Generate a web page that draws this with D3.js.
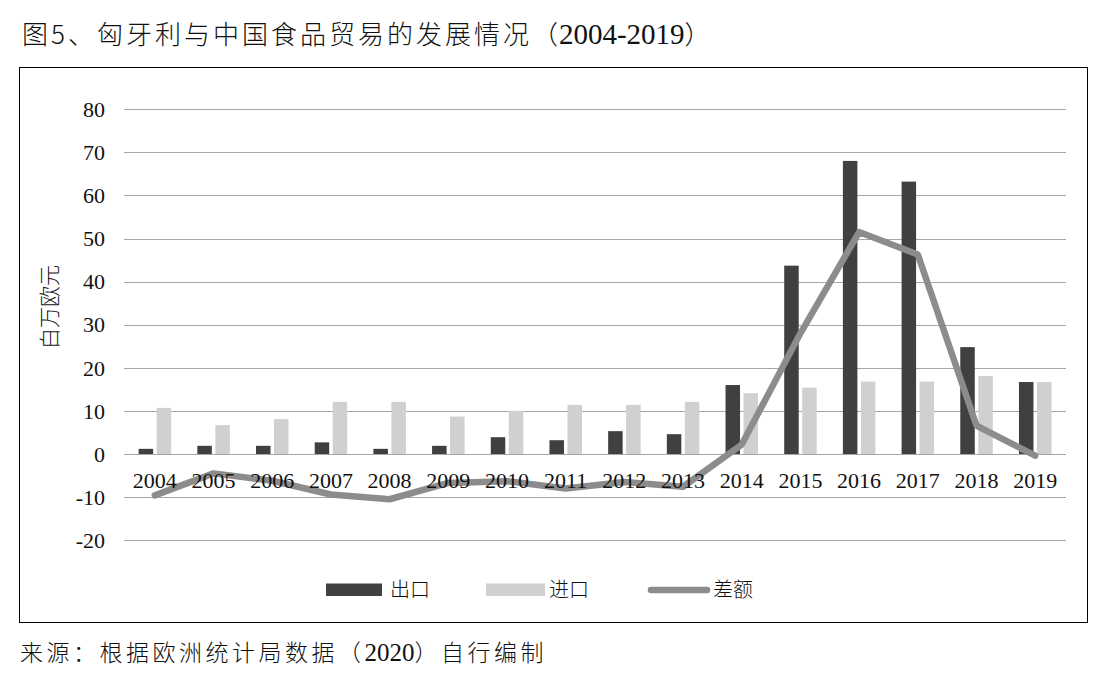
<!DOCTYPE html>
<html><head><meta charset="utf-8">
<script src="https://cdn.jsdelivr.net/npm/d3@7"></script>
<style>
html,body{margin:0;padding:0;background:#fff;}
svg{display:block;}
</style>
</head><body>
<svg id="c" width="1102" height="688"></svg>
<script>
const years = ["2004","2005","2006","2007","2008","2009","2010","2011","2012","2013","2014","2015","2016","2017","2018","2019"];
const exportVals = [1.2, 1.9, 1.9, 2.7, 1.2, 1.9, 3.9, 3.2, 5.3, 4.6, 16.0, 43.7, 68.0, 63.2, 24.8, 16.7];
const importVals = [10.7, 6.7, 8.1, 12.1, 12.1, 8.7, 10.0, 11.4, 11.4, 12.1, 14.1, 15.4, 16.8, 16.8, 18.1, 16.7];
const diffVals = [-9.6, -4.5, -6.2, -9.4, -10.5, -6.7, -6.3, -8.0, -6.5, -7.6, 2.2, 28.0, 51.5, 46.3, 6.6, -0.4];
const yTicks = [-20, -10, 0, 10, 20, 30, 40, 50, 60, 70, 80];
const seriesNames = ["出口", "进口", "差额"];
const titleText = ["图5、匈牙利与中国食品贸易的发展情况（", "2004-2019", "）"];
const sourceText = ["来源：根据欧洲统计局数据（", "2020", "）自行编制"];
const yTitle = "白万欧元";

const svg = d3.select("#c");
const cjk = "'Noto Sans CJK SC', sans-serif";
const serif = "'Liberation Serif', 'Times New Roman', serif";
const cDark = "#404040", cLight = "#d0d0d0", cLine = "#8c8c8c", cGrid = "#a6a6a6";

// frame
svg.append("rect").attr("x",19.5).attr("y",67.5).attr("width",1068).attr("height",555)
  .attr("fill","none").attr("stroke","#000").attr("stroke-width",1);

// title
const t = svg.append("text").attr("x",22).attr("y",44).attr("font-size",26).attr("fill","#111").attr("font-family",cjk).attr("font-weight",300);
t.append("tspan").attr("letter-spacing",3).text(titleText[0]);
t.append("tspan").attr("font-family",serif).attr("font-size",29).attr("font-weight",400).attr("dx",-2).text(titleText[1]);
t.append("tspan").text(titleText[2]);

// source
const s = svg.append("text").attr("x",20).attr("y",661).attr("font-size",23).attr("fill","#111").attr("font-family",cjk).attr("font-weight",300);
s.append("tspan").attr("letter-spacing",3.5).text(sourceText[0]);
s.append("tspan").attr("font-family",serif).attr("font-size",25).attr("font-weight",400).text(sourceText[1]);
s.append("tspan").attr("letter-spacing",3.5).text(sourceText[2]);

const x = d3.scaleBand().domain(years).range([125.5, 1064.5]).padding(0);
const y = d3.scaleLinear().domain([-20, 80]).range([540.2, 109.2]);

// grid
svg.append("g").selectAll("line").data(yTicks).join("line")
  .attr("x1",124).attr("x2",1066)
  .attr("y1",d=>Math.round(y(d))+0.5).attr("y2",d=>Math.round(y(d))+0.5)
  .attr("stroke",cGrid).attr("stroke-width",1);

// y tick labels
svg.append("g").selectAll("text").data(yTicks).join("text")
  .attr("x",105).attr("y",d=>y(d)).attr("dy","0.35em").attr("text-anchor","end")
  .attr("font-family",serif).attr("font-size",22).attr("fill","#111").text(d=>d);

// y title
svg.append("text").attr("transform","translate(57,307) rotate(-90)")
  .attr("text-anchor","middle").attr("font-family",cjk).attr("font-weight",300).attr("font-size",21).attr("fill","#111").text(yTitle);

const bw = 14.5;
const cx = d => x(d) + x.bandwidth()/2;
// export bars
svg.append("g").selectAll("rect").data(years).join("rect")
  .attr("x",(d)=>cx(d)-16.2).attr("width",bw)
  .attr("y",(d,i)=>y(exportVals[i])).attr("height",(d,i)=>y(0)-y(exportVals[i]))
  .attr("fill",cDark);
// import bars
svg.append("g").selectAll("rect").data(years).join("rect")
  .attr("x",(d)=>cx(d)+1.8).attr("width",bw)
  .attr("y",(d,i)=>y(importVals[i])).attr("height",(d,i)=>y(0)-y(importVals[i]))
  .attr("fill",cLight);

// diff line
const line = d3.line().x((d,i)=>cx(years[i])).y(d=>y(d));
svg.append("path").datum(diffVals).attr("d",line).attr("fill","none")
  .attr("stroke",cLine).attr("stroke-width",6.5).attr("stroke-linejoin","round").attr("stroke-linecap","round");

// x labels
svg.append("g").selectAll("text").data(years).join("text")
  .attr("x",d=>cx(d)).attr("y",488).attr("text-anchor","middle")
  .attr("font-family",serif).attr("font-size",22).attr("fill","#111").text(d=>d);

// legend
const lg = svg.append("g");
lg.append("rect").attr("x",326).attr("y",583.5).attr("width",56).attr("height",12.5).attr("fill",cDark);
lg.append("text").attr("x",390).attr("y",590).attr("dy","0.36em").attr("font-family",cjk).attr("font-weight",300).attr("font-size",20).attr("fill","#111").text(seriesNames[0]);
lg.append("rect").attr("x",486).attr("y",583.5).attr("width",59).attr("height",12.5).attr("fill",cLight);
lg.append("text").attr("x",549).attr("y",590).attr("dy","0.36em").attr("font-family",cjk).attr("font-weight",300).attr("font-size",20).attr("fill","#111").text(seriesNames[1]);
lg.append("line").attr("x1",651).attr("x2",707).attr("y1",590).attr("y2",590)
  .attr("stroke",cLine).attr("stroke-width",6.5).attr("stroke-linecap","round");
lg.append("text").attr("x",713).attr("y",590).attr("dy","0.36em").attr("font-family",cjk).attr("font-weight",300).attr("font-size",20).attr("fill","#111").text(seriesNames[2]);
</script>
</body></html>
